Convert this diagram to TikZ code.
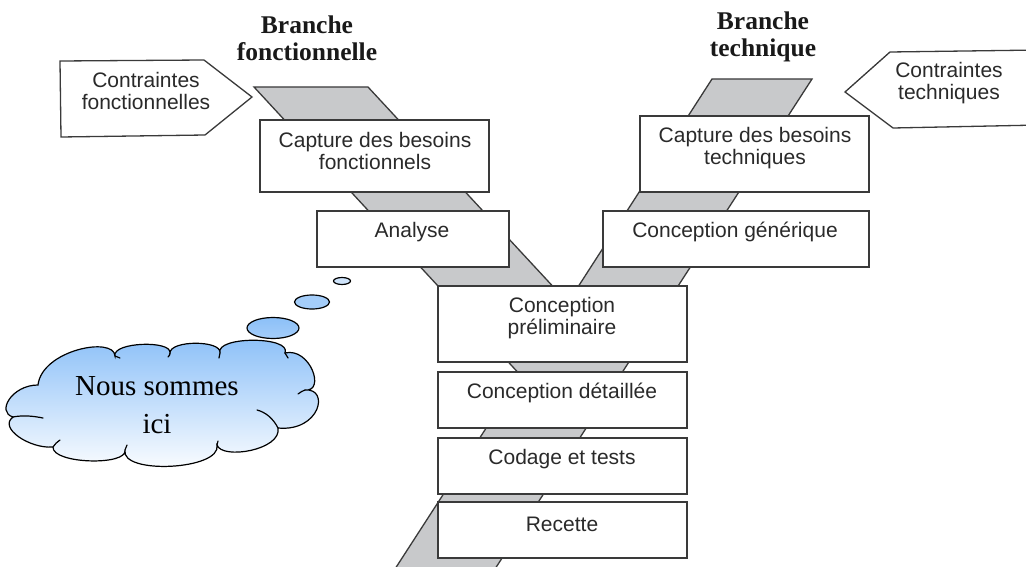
\documentclass[tikz,border=0pt]{standalone}
\usepackage{fontspec}
\setmainfont{Liberation Sans}
\newfontfamily\headfont{Liberation Serif}

\definecolor{boxline}{HTML}{3A3A3A}
\definecolor{bandfill}{HTML}{C8C9CB}
\definecolor{txt}{HTML}{2A2A2A}
\definecolor{cloudtop}{HTML}{8CC0F8}
\definecolor{bubblefill}{HTML}{A4CDF9}
\definecolor{bubblepale}{HTML}{CFE4FB}

\begin{document}
\begin{tikzpicture}[x=1pt,y=-1pt,
  stepbox/.style={draw=boxline, line width=1.3pt, fill=white, rectangle, inner sep=0pt},
  boxtext/.style={font=\fontsize{21}{22}\selectfont, align=center, inner sep=0pt, text=txt},
  headtext/.style={font=\headfont\bfseries\fontsize{25.5}{27}\selectfont, align=center, inner sep=0pt, text=black!90},
  band/.style={fill=bandfill, draw=boxline, line width=1.3pt, line join=miter},
  tag/.style={fill=white, draw=boxline, line width=1.3pt, line join=miter},
  cloudline/.style={draw=black, line width=1.2pt, line cap=round},
  bubble/.style={draw=black, line width=1.2pt}]

\useasboundingbox (0,0) rectangle (1026,567);
\clip (0,0) rectangle (1026,567);

% the two branches of the Y, merged into one outline
\draw[band] (254,87) -- (368,87) -- (567.9,302.6) -- (712,79) -- (812,79)
  -- (489.8,577) -- (389.8,577) -- (520.4,375.1) -- cycle;

% constraint tags
\draw[tag] (60,61) -- (204,60) -- (252,97) -- (205,135) -- (61,137) -- cycle;
\draw[tag] (1040,50) -- (890,52) -- (845,92) -- (893,128) -- (1040,125);

\node[boxtext] (cftext) at (146,91) {Contraintes\\fonctionnelles};
\node[boxtext] (cttext) at (949,83) {Contraintes\\techniques};

% branch titles
\node[headtext] (bf) at (307,38) {Branche\\fonctionnelle};
\node[headtext] (bt) at (763,37) {Branche\\technique};

% process steps
\node[stepbox, minimum width=229, minimum height=72] (cbf) at (374.5,156) {};
\node[stepbox, minimum width=192, minimum height=56] (ana) at (413,239) {};
\node[stepbox, minimum width=229, minimum height=76] (cbt) at (754.5,154) {};
\node[stepbox, minimum width=266, minimum height=56] (cg) at (736,239) {};
\node[stepbox, minimum width=249, minimum height=76] (cp) at (562.5,324) {};
\node[stepbox, minimum width=249, minimum height=56] (cd) at (562.5,400) {};
\node[stepbox, minimum width=249, minimum height=56] (ct) at (562.5,466) {};
\node[stepbox, minimum width=249, minimum height=56] (rec) at (562.5,530) {};

\node[boxtext] (cbftext) at (375,151) {Capture des besoins\\fonctionnels};
\node[boxtext] (anatext) at (412,232) {Analyse};
\node[boxtext] (cbttext) at (755,148) {Capture des besoins\\techniques};
\node[boxtext] (cgtext) at (735,232) {Conception générique};
\node[boxtext] (cptext) at (562,318) {Conception\\préliminaire};
\node[boxtext] (cdtext) at (562,393) {Conception détaillée};
\node[boxtext] (cttext2) at (562,459) {Codage et tests};
\node[boxtext] (rectext) at (562,524) {Recette};

% thought cloud: one puff between each pair of junction points
\path[cloudline, top color=cloudtop, bottom color=white]
  (38,385)
  .. controls (42,350) and (114,336) .. (115,356)
  .. controls (112,342) and (172,340) .. (170,353)
  .. controls (170,340) and (222,340) .. (220,353)
  .. controls (215,336) and (292,336) .. (285,353)
  .. controls (310,347) and (326,392) .. (305,390)
  .. controls (330,388) and (320,432) .. (278,428)
  .. controls (282,450) and (222,460) .. (217,445)
  .. controls (222,470) and (120,475) .. (125,450)
  .. controls (128,466) and (52,464) .. (53,447)
  .. controls (30,449) and (-2,428) .. (13,417)
  .. controls (-4,412) and (12,385) .. (38,385)
  -- cycle;
% inner creases of the cloud
\draw[cloudline] (13,417) .. controls (23,415) and (33,416) .. (43,418);
\draw[cloudline] (53,447) .. controls (55,444) and (57,442) .. (60,440);
\draw[cloudline] (125,450) .. controls (126,448) and (126,447) .. (127,445);
\draw[cloudline] (217,445) .. controls (217,444) and (218,442) .. (218,441);
\draw[cloudline] (278,428) .. controls (273,418) and (265,412) .. (257,410);
\draw[cloudline] (305,390) .. controls (303,391) and (300,392) .. (298,394);
\draw[cloudline] (285,353) .. controls (286,355) and (287,356) .. (288,358);
\draw[cloudline] (220,353) .. controls (220,355) and (219,356) .. (219,358);
\draw[cloudline] (170,353) .. controls (170,355) and (169,356) .. (168,357);
\draw[cloudline] (115,356) .. controls (117,357) and (118,357) .. (120,358);
\node[font=\headfont\fontsize{29}{38}\selectfont, align=center, inner sep=0pt] (cloudtext)
  at (157,405) {Nous sommes\\ici};

\draw[bubble, top color=cloudtop, bottom color=bubblefill] (273,328) ellipse [x radius=26, y radius=10.5];
\draw[bubble, fill=bubblefill] (312,302) ellipse [x radius=17.5, y radius=7];
\draw[bubble, fill=bubblepale] (342,281) ellipse [x radius=8.5, y radius=3.5];
\end{tikzpicture}
\end{document}
